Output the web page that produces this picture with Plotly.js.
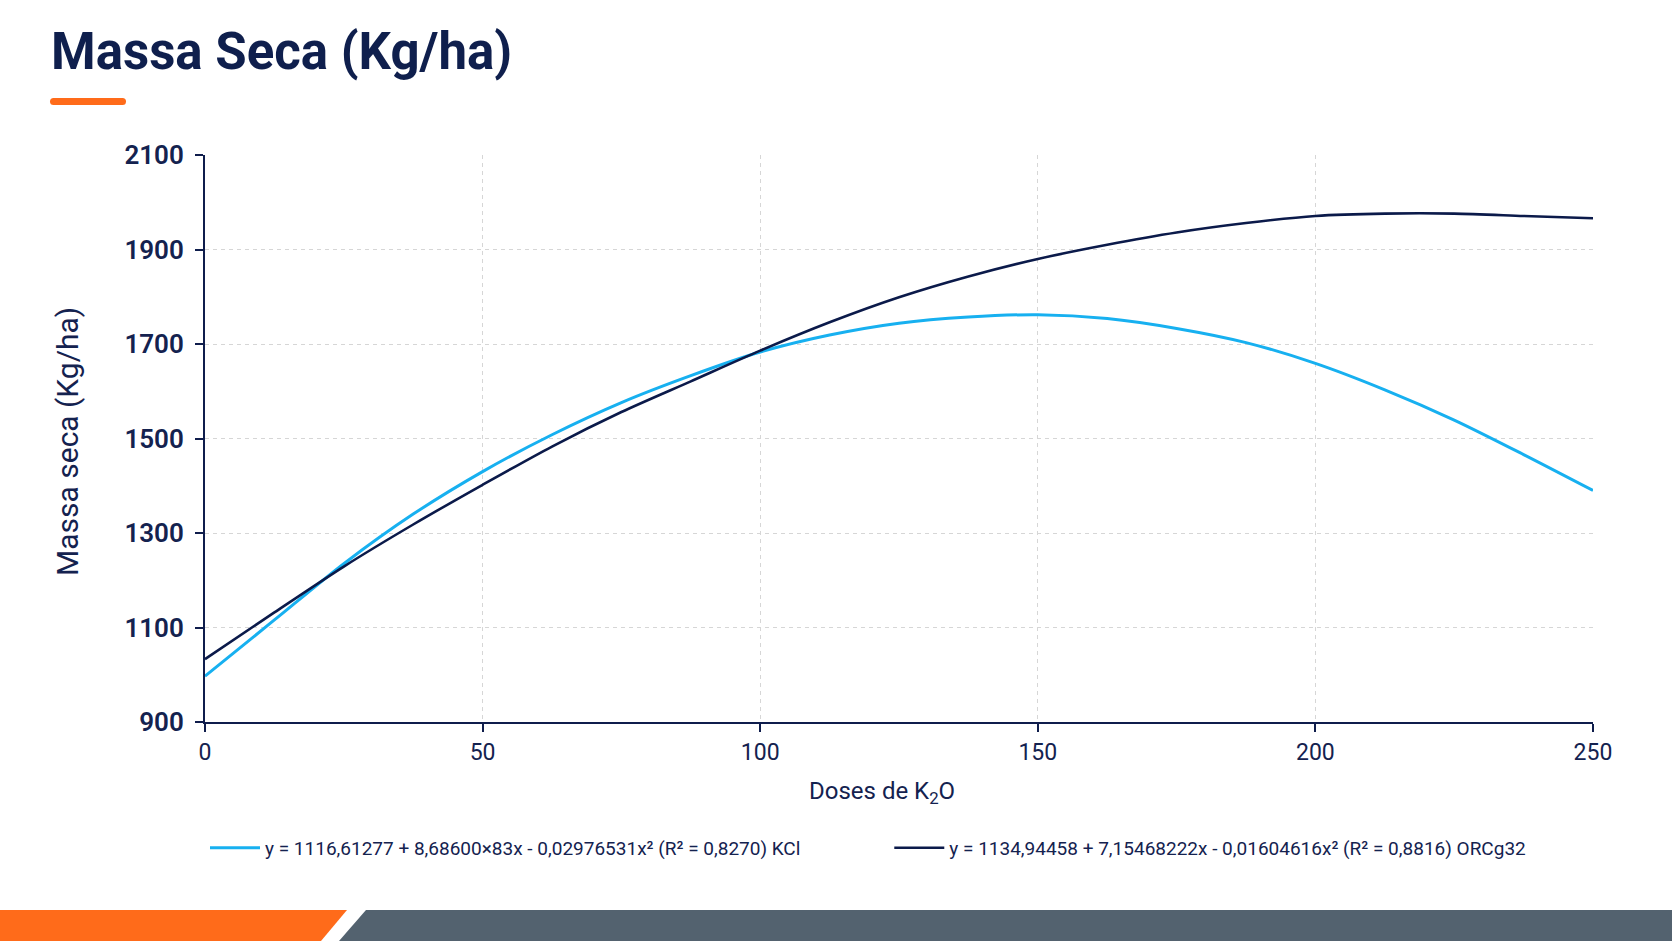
<!DOCTYPE html>
<html>
<head>
<meta charset="utf-8">
<script src="https://cdn.plot.ly/plotly-3.0.1.min.js"></script>
<style>
  html, body { margin: 0; padding: 0; background: #ffffff; }
  #wrap { position: relative; width: 1672px; height: 941px; overflow: hidden; }
  #chart { position: absolute; left: 0; top: 0; width: 1672px; height: 941px; }
  #underline { position: absolute; left: 50px; top: 98px; width: 76px; height: 7px; border-radius: 4px; background: #ff6b1a; }
  #band { position: absolute; left: 0; top: 910px; }
</style>
</head>
<body>
<div id="wrap">
  <div id="chart"></div>
  <div id="underline"></div>
  <svg id="band" width="1672" height="31" viewBox="0 0 1672 31">
    <polygon points="0,0 347,0 321,31 0,31" fill="#ff6b1a"/>
    <polygon points="366,0 1672,0 1672,31 339,31" fill="#53626f"/>
  </svg>
</div>
<script>
// Doses de K2O (x values)
const doses = [0, 12.5, 25, 37.5, 50, 62.5, 75, 87.5, 100, 112.5, 125, 137.5, 150, 162.5, 175, 187.5, 200, 212.5, 225, 237.5, 250];
// Massa seca (Kg/ha)
const kclValues = [997, 1116, 1235, 1340, 1430, 1508, 1576, 1633, 1683, 1719, 1744, 1757, 1762, 1754, 1733, 1703, 1659, 1603, 1539, 1466, 1390];
const orcValues = [1033, 1132, 1229, 1318, 1402, 1483, 1556, 1621, 1686, 1746, 1799, 1843, 1880, 1910, 1936, 1956, 1971, 1976, 1976, 1971, 1966];
// Labels
const kclName = "y = 1116,61277 + 8,68600×83x - 0,02976531x² (R² = 0,8270) KCl";
const orcName = "y = 1134,94458 + 7,15468222x - 0,01604616x² (R² = 0,8816) ORCg32";
const xTickVals = [0, 50, 100, 150, 200, 250];
const yTickVals = [900, 1100, 1300, 1500, 1700, 1900, 2100];
const chartTitle = "Massa Seca (Kg/ha)";
const xTitle = "Doses de K<sub>2</sub>O";
const yTitle = "Massa seca (Kg/ha)";

const navy = "#0f1d4c";
const textNavy = "#14224f";
const fontFam = "Roboto, 'Noto Sans', sans-serif";

const traces = [
  {
    x: doses, y: kclValues, name: kclName, type: "scatter", mode: "lines",
    line: { color: "#17b0f0", width: 3, shape: "spline", smoothing: 0.8 },
    legend: "legend"
  },
  {
    x: doses, y: orcValues, name: orcName, type: "scatter", mode: "lines",
    line: { color: "#0b1a4a", width: 2.6, shape: "spline", smoothing: 0.8 },
    legend: "legend2"
  }
];

const legendCommon = {
  orientation: "h", yanchor: "middle", xanchor: "left", y: -0.222,
  bgcolor: "rgba(0,0,0,0)", borderwidth: 0, itemwidth: 50,
  font: { family: fontFam, size: 19, color: textNavy }
};

const layout = {
  width: 1672, height: 941,
  paper_bgcolor: "#ffffff", plot_bgcolor: "#ffffff",
  margin: { l: 205, r: 79, t: 155, b: 219 },
  font: { family: fontFam, color: textNavy },
  title: {
    text: chartTitle, x: 51 / 1672, xanchor: "left", xref: "container",
    y: 1 - 51 / 941, yanchor: "middle", yref: "container",
    font: { family: fontFam, size: 51, weight: 700, color: "#0f1f4d" }
  },
  xaxis: {
    range: [0, 250], tickvals: xTickVals, ticks: "outside", ticklen: 8, tickwidth: 2, tickcolor: navy,
    showline: true, linecolor: navy, linewidth: 2, zeroline: false,
    showgrid: true, gridcolor: "#d6d6d6", griddash: "4px,4px", gridwidth: 1,
    tickfont: { family: fontFam, size: 23, color: textNavy }
  },
  yaxis: {
    range: [900, 2100], tickvals: yTickVals, ticks: "outside", ticklen: 8, tickwidth: 2, tickcolor: navy,
    showline: true, linecolor: navy, linewidth: 2, zeroline: false, ticklabelstandoff: 6,
    showgrid: true, gridcolor: "#d6d6d6", griddash: "4px,4px", gridwidth: 1,
    tickfont: { family: fontFam, size: 26, weight: 600, color: textNavy }
  },
  showlegend: true,
  legend: Object.assign({}, legendCommon, { x: 0.0 }),
  legend2: Object.assign({}, legendCommon, { x: 0.493 }),
  annotations: [
    {
      text: xTitle, xref: "paper", yref: "paper", x: (882 - 205) / 1388, y: -(792 - 722) / 567,
      xanchor: "center", yanchor: "middle", showarrow: false,
      font: { family: fontFam, size: 24, color: textNavy }
    },
    {
      text: yTitle, xref: "paper", yref: "paper", x: (67 - 205) / 1388, y: (722 - 442) / 567,
      xanchor: "center", yanchor: "middle", showarrow: false, textangle: -90,
      font: { family: fontFam, size: 30, color: textNavy }
    }
  ]
};

Plotly.newPlot("chart", traces, layout, { displayModeBar: false, responsive: false });
</script>
</body>
</html>
